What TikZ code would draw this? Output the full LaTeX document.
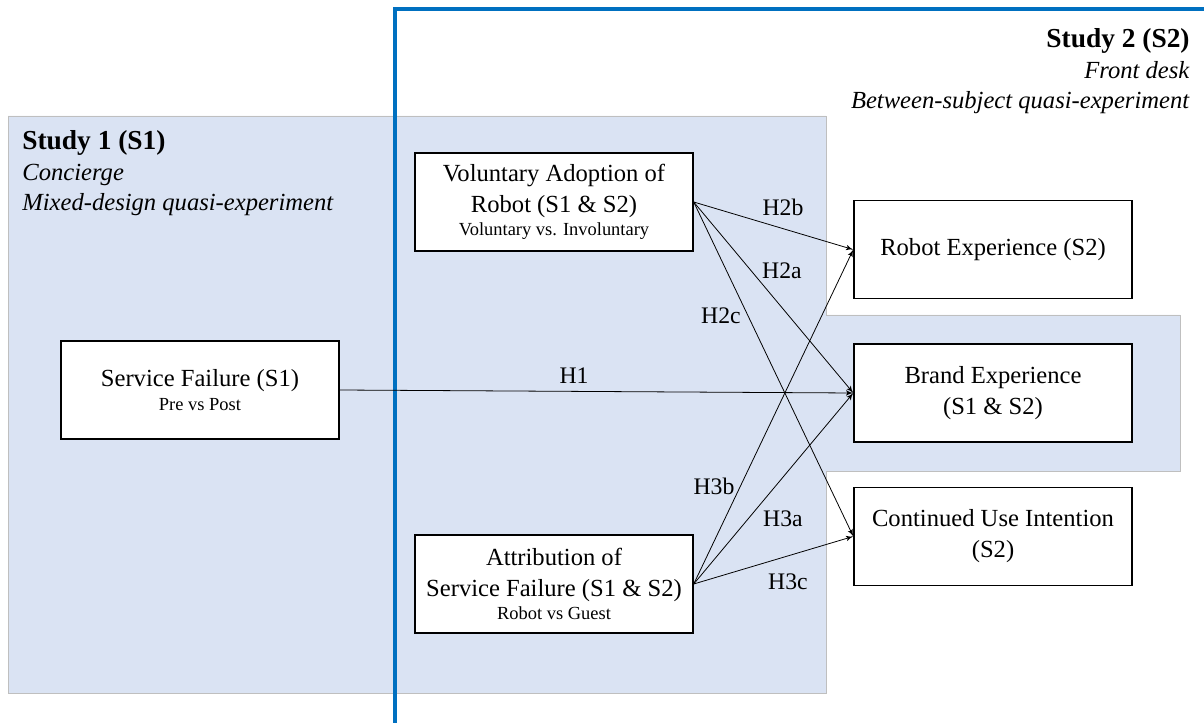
\documentclass[tikz,border=0pt]{standalone}
\usepackage{fontspec}
\setmainfont{Liberation Serif}
\usetikzlibrary{arrows,positioning}
\definecolor{studyfill}{RGB}{218,227,243}
\definecolor{studyline}{RGB}{191,191,191}
\definecolor{frameblue}{RGB}{0,112,192}
\tikzset{
	block/.style = {draw, fill=white, rectangle, line width=0.8pt, minimum height=19.6mm, minimum width=55.6mm, align=center, font=\fontsize{14}{17.5}\selectfont},
	hyp/.style = {inner sep=0pt, font=\fontsize{13.5}{16}\selectfont},
	head/.style = {inner sep=0pt, font=\fontsize{14}{17.5}\selectfont},
	link/.style = {->, line width=0.45pt}
}
\newcommand{\subline}[1]{{\fontsize{10.5}{12}\selectfont #1}}
\newcommand{\studytitle}[1]{{\fontsize{15.6}{17.5}\selectfont\bfseries #1}}

\begin{document}
\begin{tikzpicture}[auto,>=latex',x=0.2mm,y=-0.2mm]
\useasboundingbox (0,0) rectangle (1204,723);
% study areas
\filldraw [fill=studyfill, draw=studyline, line width=0.5pt] (8,116) -- (826,116) -- (826,315) -- (1180,315) -- (1180,471) -- (826,471) -- (826,693) -- (8,693) -- cycle;
\draw [frameblue, line width=2.5pt] (395,723) -- (395,9) -- (1204,9);

\node [head, anchor=north west, align=left] (study1) at (22,130) {\studytitle{Study 1 (S1)}\\ \textit{Concierge}\\ \textit{Mixed-design quasi-experiment}};
\node [head, anchor=north east, align=right] (study2) at (1190,28) {\studytitle{Study 2 (S2)}\\ \textit{Front desk}\\ \textit{Between-subject quasi-experiment}};

% variables
\node [block] (failure) at (200,390) {Service Failure (S1)\\[-4pt] \subline{Pre vs Post}};
\node [block] (voluntary) at (554,202) {Voluntary Adoption of\\ Robot (S1 \& S2)\\[-4pt] \subline{Voluntary vs. Involuntary}};
\node [block] (attribution) at (554,584) {Attribution of\\ Service Failure (S1 \& S2)\\[-4pt] \subline{Robot vs Guest}};
\node [block] (brandexp) at (993,393) {Brand Experience\\ (S1 \& S2)};
\node [block, above=8.8mm of brandexp] (robotexp) {Robot Experience (S2)};
\node [block, below=8.8mm of brandexp] (useint) {Continued Use Intention\\ (S2)};

% hypotheses
\draw [link] (failure.east) -- (brandexp.west);
\draw [link] (voluntary.east) -- (robotexp.west);
\draw [link] (voluntary.east) -- (brandexp.west);
\draw [link] (voluntary.east) -- (useint.west);
\draw [link] (attribution.east) -- (robotexp.west);
\draw [link] (attribution.east) -- (brandexp.west);
\draw [link] (attribution.east) -- (useint.west);

\node [hyp] (h1) at (574,376) {H1};
\node [hyp] (h2b) at (783,207) {H2b};
\node [hyp] (h2a) at (782,271) {H2a};
\node [hyp] (h2c) at (721,316) {H2c};
\node [hyp] (h3b) at (714,486) {H3b};
\node [hyp] (h3a) at (783,519) {H3a};
\node [hyp] (h3c) at (788,582) {H3c};
\end{tikzpicture}
\end{document}
